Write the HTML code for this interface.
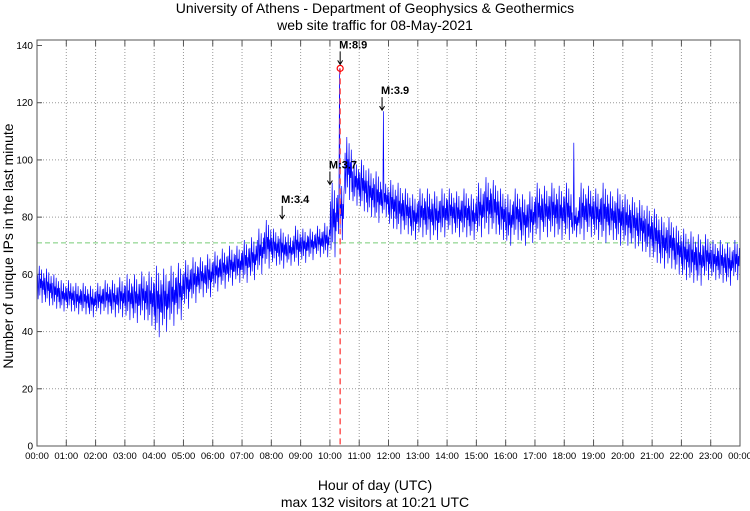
<!DOCTYPE html>
<html><head><meta charset="utf-8"><style>
body{margin:0;background:#fff}
svg{display:block;font-family:"Liberation Sans",sans-serif}
</style></head><body>
<svg id="c" width="750" height="511" viewBox="0 0 750 511">
<text x="375" y="13" text-anchor="middle" font-size="14">University of Athens - Department of Geophysics &amp; Geothermics</text>
<text x="375" y="30" text-anchor="middle" font-size="14">web site traffic for 08-May-2021</text>
<text x="375" y="490" text-anchor="middle" font-size="14">Hour of day (UTC)</text>
<text x="375" y="507" text-anchor="middle" font-size="14">max 132 visitors at 10:21 UTC</text>
<text transform="translate(13,246) rotate(-90)" text-anchor="middle" font-size="14">Number of unique IPs in the last minute</text>
<g id="grid"></g><g id="series"></g><g id="ann"></g>
<rect x="37" y="40" width="703" height="406" fill="none" stroke="#555" stroke-width="1"/>
</svg>
<script>
const yTicks=[0,20,40,60,80,100,120,140];
const xTicks=["00:00","01:00","02:00","03:00","04:00","05:00","06:00","07:00","08:00","09:00","10:00","11:00","12:00","13:00","14:00","15:00","16:00","17:00","18:00","19:00","20:00","21:00","22:00","23:00","00:00"];
const binLo=[50,49,48,47,47,46,46,45,46,46,45,45,44,43,44,42,38,40,42,44,48,50,52,52,54,55,56,57,57,58,60,62,63,62,63,63,64,65,66,66,66,72,86,84,82,80,78,80,76,74,74,72,73,72,72,73,74,73,73,72,73,74,74,72,70,72,70,71,72,73,73,72,72,73,72,73,72,71,72,70,70,69,68,66,64,62,62,60,58,57,56,58,58,57,56,58];
const binHi=[63,62,60,58,58,57,57,56,57,58,58,59,60,60,61,61,63,62,63,64,65,66,66,67,68,69,70,70,72,73,76,79,76,76,74,77,76,76,77,78,92,132,108,100,100,97,96,117,93,92,90,88,90,90,89,90,90,89,90,88,92,94,93,90,88,90,88,89,92,91,92,91,92,106,92,91,90,92,89,90,88,87,86,84,83,80,80,77,76,75,74,74,72,72,71,72];
const refLevel=71;
const peakHour=10+21/60, peakVal=132;
const markers=[{h:8.37,v:78,t:"M:3.4"},{h:10.0,v:90,t:"M:3.7"},{h:10.35,v:132,t:"M:8.9"},{h:11.78,v:116,t:"M:3.9"}];
const NS="http://www.w3.org/2000/svg";
const X=h=>37+h*703/24, Y=v=>446-v*400.5/140;
function mk(tag,at,parent){const e=document.createElementNS(NS,tag);for(const k in at)e.setAttribute(k,at[k]);parent.appendChild(e);return e;}
const g=document.getElementById('grid');
yTicks.forEach(v=>{
 if(v>0&&v<140){const l=mk('line',{x1:37,x2:740,y1:Y(v),y2:Y(v),stroke:'#999','stroke-dasharray':'1,2'},g);
 
 }
 const tk=mk('line',{x1:37,x2:42,y1:Y(v),y2:Y(v),stroke:'#555'},g);
 
 
 const t=mk('text',{x:33,y:Y(v)+3.5,'text-anchor':'end','font-size':10},g);t.textContent=v;
 
 
});
xTicks.forEach((s,i)=>{
 const x=X(i);
 if(i>0&&i<24){const l=mk('line',{x1:x,x2:x,y1:40,y2:446,stroke:'#999','stroke-dasharray':'1,2'},g);
 
 }
 const a=mk('line',{x1:x,x2:x,y1:446,y2:440,stroke:'#555'},g);
 
 
 const b=mk('line',{x1:x,x2:x,y1:40,y2:46,stroke:'#555'},g);
 
 
 const t=mk('text',{x:x,y:459,'text-anchor':'middle','font-size':9.5},g);t.textContent=s;
 
 
});
const hl=mk('line',{x1:37,x2:740,y1:Y(refLevel),y2:Y(refLevel),stroke:'#7c7','stroke-dasharray':'5,3'},g);


const pat=[0.3,0.75,0.1,0.55,1,0.2,0.65,0.4,0.9,0,0.6,0.35,0.8];
let pts=[];
binLo.forEach((lo,i)=>{const hi=binHi[i];
 pat.forEach((f,j)=>{const h=(i+j/pat.length)*0.25;let v=lo+(hi-lo)*f;
  if(hi-lo>30&&f<1)v=lo+(hi-lo)*f*0.35;pts.push(X(h).toFixed(1)+','+Y(v).toFixed(1));});
});
const s=mk('polyline',{points:pts.join(' '),fill:'none',stroke:'#00f','stroke-width':0.7},document.getElementById('series'));


const an=document.getElementById('ann');
const pv=mk('line',{x1:X(peakHour),x2:X(peakHour),y1:Y(peakVal),y2:446,stroke:'#f55','stroke-width':1.5,'stroke-dasharray':'6,4'},an);


const pc=mk('circle',{cx:X(peakHour),cy:Y(peakVal),r:3,fill:'none',stroke:'#f00','stroke-width':1.2},an);


markers.forEach(m=>{const x=X(m.h),y=Y(m.v)-4;
 const a=mk('path',{d:`M${x},${y-13}V${y}M${x-2.5},${y-4}L${x},${y}L${x+2.5},${y-4}`,stroke:'#000',fill:'none'},an);
 
 
 const t=mk('text',{x:x-1,y:y-16,'font-size':11,'font-weight':'bold'},an);t.textContent=m.t;
 
 
});
</script>
</body></html>
